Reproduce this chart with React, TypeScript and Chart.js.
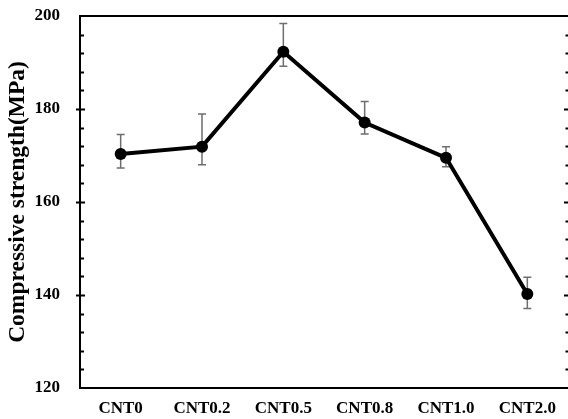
import React, { useEffect, useRef } from "react";
import { Chart, registerables } from "chart.js";

Chart.register(...registerables);

const categories = ["CNT0", "CNT0.2", "CNT0.5", "CNT0.8", "CNT1.0", "CNT2.0"];
const strength = [170.3, 171.9, 192.3, 177.1, 169.5, 140.2];
const errUpper = [174.5, 178.9, 198.4, 181.6, 171.9, 143.8];
const errLower = [167.3, 168.0, 189.2, 174.6, 167.6, 137.1];
const yMin = 120;
const yMax = 200;
const yMajorStep = 20;
const yMinorStep = 4;

const FONT = "'Liberation Serif', 'Times New Roman', serif";

const framePlugin = {
  id: "framePlugin",
  beforeDatasetsDraw(chart: any) {
    const ctx = chart.ctx;
    const xs = chart.scales.x;
    const ys = chart.scales.y;
    ctx.save();
    ctx.strokeStyle = "#6e6e6e";
    ctx.lineWidth = 1.5;
    for (let i = 0; i < categories.length; i++) {
      const x = xs.getPixelForValue(i);
      const yt = ys.getPixelForValue(errUpper[i]);
      const yb = ys.getPixelForValue(errLower[i]);
      ctx.beginPath();
      ctx.moveTo(x, yt);
      ctx.lineTo(x, yb);
      ctx.moveTo(x - 4, yt);
      ctx.lineTo(x + 4, yt);
      ctx.moveTo(x - 4, yb);
      ctx.lineTo(x + 4, yb);
      ctx.stroke();
    }
    ctx.restore();
  },
  afterDraw(chart: any) {
    const ctx = chart.ctx;
    const ys = chart.scales.y;
    const a = chart.chartArea;
    ctx.save();
    ctx.strokeStyle = "#000";
    ctx.lineWidth = 2;
    ctx.beginPath();
    ctx.moveTo(a.left - 1, a.top);
    ctx.lineTo(a.right, a.top);
    ctx.stroke();
    for (let v = yMin + yMinorStep; v < yMax; v += yMinorStep) {
      const y = Math.round(ys.getPixelForValue(v)) + 0.5;
      const major = Math.abs(v % yMajorStep) < 1e-6;
      ctx.lineWidth = 2;
      ctx.beginPath();
      ctx.moveTo(major ? a.left - 4 : a.left, y);
      ctx.lineTo(a.left + (major ? 5 : 4), y);
      ctx.moveTo(a.right - (major ? 4 : 2.5), y);
      ctx.lineTo(a.right, y);
      ctx.stroke();
    }
    ctx.restore();
  },
};

export default function App() {
  const ref = useRef<HTMLCanvasElement | null>(null);
  useEffect(() => {
    if (!ref.current) return;
    const chart = new Chart(ref.current, {
      type: "line",
      data: {
        labels: categories,
        datasets: [
          {
            data: strength,
            borderColor: "#000",
            backgroundColor: "#000",
            borderWidth: 4,
            pointRadius: 6,
            pointBackgroundColor: "#000",
            pointBorderColor: "#000",
            pointBorderWidth: 0,
            tension: 0,
          },
        ],
      },
      options: {
        animation: false,
        responsive: false,
        layout: { autoPadding: false, padding: { top: 16, right: 0, left: 0, bottom: 0 } },
        plugins: { legend: { display: false }, tooltip: { enabled: false } },
        scales: {
          x: {
            offset: true,
            grid: { display: false, drawTicks: false },
            border: { display: true, color: "#000", width: 2 },
            ticks: {
              color: "#000",
              padding: 10,
              maxRotation: 0,
              font: { family: FONT, size: 17, weight: "bold" },
            },
            afterFit: (s: any) => {
              s.height = 31;
              s.paddingLeft = 0;
              s.paddingRight = 0;
            },
          },
          y: {
            min: yMin,
            max: yMax,
            grid: { display: false, drawTicks: false },
            border: { display: true, color: "#000", width: 2 },
            ticks: {
              stepSize: yMajorStep,
              color: "#000",
              padding: 20,
              font: { family: FONT, size: 17, weight: "bold" },
            },
            title: {
              display: true,
              text: "Compressive strength(MPa)",
              color: "#000",
              padding: { top: 4, bottom: 0 },
              font: { family: FONT, size: 23.5, weight: "bold" },
            },
            afterFit: (s: any) => {
              s.width = 80;
              s.paddingTop = 0;
              s.paddingBottom = 0;
            },
          },
        },
      },
      plugins: [framePlugin],
    });
    return () => chart.destroy();
  }, []);
  return (
    <div style={{ position: "fixed", left: 0, top: 0, width: 568, height: 419, background: "#fff" }}>
      <canvas ref={ref} width={568} height={419} />
    </div>
  );
}
